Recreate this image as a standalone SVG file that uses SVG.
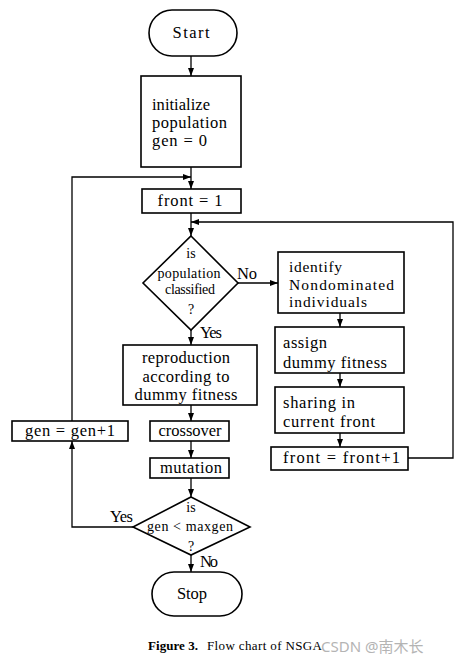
<svg xmlns="http://www.w3.org/2000/svg" width="459" height="663" viewBox="0 0 459 663">
<style>
.box{fill:none;stroke:#000;stroke-width:1.6}
.ln{fill:none;stroke:#000;stroke-width:1.3}
.t{font-family:"Liberation Serif","DejaVu Serif",serif;font-size:16.5px;fill:#000}
.c{text-anchor:middle}
.d{font-size:14px}
.s{font-size:15.5px}
.cap{font-family:"Liberation Serif",serif;font-size:13px;fill:#000}
.wm{font-family:"Noto Sans","Noto Sans CJK SC",sans-serif;font-size:15px;fill:#b4b4b4}
</style>
<defs>
<marker id="ah" markerUnits="userSpaceOnUse" markerWidth="8" markerHeight="6" refX="8" refY="3" orient="auto">
<path d="M0,0 L8,3 L0,6 z" fill="#000"/>
</marker>
</defs>
<rect width="459" height="663" fill="#fff"/>
<g id="connectors">
<line class="ln" x1="191" y1="56" x2="191" y2="76" marker-end="url(#ah)"/>
<line class="ln" x1="191" y1="167" x2="191" y2="189" marker-end="url(#ah)"/>
<polyline class="ln" points="72,421 72,177 191,177" marker-end="url(#ah)"/>
<line class="ln" x1="191" y1="213" x2="191" y2="236" marker-end="url(#ah)"/>
<polyline class="ln" points="408,458 453,458 453,222 191,222" marker-end="url(#ah)"/>
<line class="ln" x1="191" y1="330" x2="191" y2="345" marker-end="url(#ah)"/>
<line class="ln" x1="238" y1="283" x2="278" y2="283" marker-end="url(#ah)"/>
<line class="ln" x1="340" y1="313" x2="340" y2="327" marker-end="url(#ah)"/>
<line class="ln" x1="340" y1="373" x2="340" y2="387" marker-end="url(#ah)"/>
<line class="ln" x1="340" y1="433" x2="340" y2="447" marker-end="url(#ah)"/>
<line class="ln" x1="191" y1="405" x2="191" y2="421" marker-end="url(#ah)"/>
<line class="ln" x1="191" y1="441" x2="191" y2="458" marker-end="url(#ah)"/>
<line class="ln" x1="191" y1="478" x2="191" y2="497" marker-end="url(#ah)"/>
<line class="ln" x1="191" y1="555" x2="191" y2="572" marker-end="url(#ah)"/>
<polyline class="ln" points="133,527 72,527 72,441" marker-end="url(#ah)"/>
<text class="t" x="237" y="279" textLength="20">No</text>
<text class="t" x="200" y="338" textLength="22">Yes</text>
<text class="t" x="110" y="522" textLength="23">Yes</text>
<text class="t" x="200" y="567" textLength="18">No</text>
</g>
<g id="start">
<rect class="box" x="149" y="10" width="88" height="46" rx="23"/>
<text class="t c" x="191" y="38" textLength="37">Start</text>
</g>
<g id="init">
<rect class="box" x="141" y="76" width="100" height="91"/>
<text class="t" x="152" y="110" textLength="58">initialize</text>
<text class="t" x="152" y="128" textLength="75">population</text>
<text class="t" x="152" y="146" textLength="55">gen = 0</text>
</g>
<g id="front1">
<rect class="box" x="142" y="189" width="99" height="24"/>
<text class="t c" x="190" y="206" textLength="65">front = 1</text>
</g>
<g id="classified">
<polygon class="box" points="191,236 238,283 191,330 143,283"/>
<text class="t c d" x="191" y="258">is</text>
<text class="t c d" x="189" y="278" textLength="63">population</text>
<text class="t c d" x="190" y="294" textLength="50">classified</text>
<text class="t c d" x="191" y="314">?</text>
</g>
<g id="identify">
<rect class="box" x="278" y="252" width="126" height="61"/>
<text class="t s" x="289" y="272" textLength="53">identify</text>
<text class="t s" x="289" y="290" textLength="105">Nondominated</text>
<text class="t s" x="289" y="307" textLength="78">individuals</text>
</g>
<g id="assign">
<rect class="box" x="275" y="327" width="129" height="46"/>
<text class="t" x="283" y="348" textLength="44">assign</text>
<text class="t" x="283" y="368" textLength="104">dummy fitness</text>
</g>
<g id="sharing">
<rect class="box" x="275" y="387" width="129" height="46"/>
<text class="t" x="283" y="408" textLength="72">sharing in</text>
<text class="t" x="283" y="427" textLength="92">current front</text>
</g>
<g id="frontinc">
<rect class="box" x="271" y="447" width="137" height="23"/>
<text class="t" x="283" y="463" textLength="117">front = front+1</text>
</g>
<g id="reproduction">
<rect class="box" x="123" y="345" width="134" height="60"/>
<text class="t c" x="186" y="363" textLength="88">reproduction</text>
<text class="t c" x="186" y="382" textLength="87">according to</text>
<text class="t c" x="186" y="400" textLength="103">dummy fitness</text>
</g>
<g id="crossover">
<rect class="box" x="150" y="421" width="79" height="20"/>
<text class="t c" x="190" y="436" textLength="63">crossover</text>
</g>
<g id="mutation">
<rect class="box" x="150" y="458" width="79" height="20"/>
<text class="t c" x="191" y="473" textLength="62">mutation</text>
</g>
<g id="geninc">
<rect class="box" x="12" y="421" width="116" height="20"/>
<text class="t c" x="70" y="436" textLength="90">gen = gen+1</text>
</g>
<g id="maxgen">
<polygon class="box" points="191,497 250,527 191,555 133,527"/>
<text class="t c d" x="191" y="512">is</text>
<text class="t c d" x="190" y="531" textLength="86">gen &lt; maxgen</text>
<text class="t c d" x="191" y="551">?</text>
</g>
<g id="stop">
<rect class="box" x="152" y="572" width="90" height="44" rx="22"/>
<text class="t c" x="192" y="599" textLength="30">Stop</text>
</g>
<g id="caption">
<text class="cap" x="148" y="650" font-weight="bold" textLength="50">Figure 3.</text>
<text class="cap" x="207" y="650" textLength="115">Flow chart of NSGA</text>
<text class="wm" x="321" y="652">CSDN @南木长</text>
</g>
</svg>
